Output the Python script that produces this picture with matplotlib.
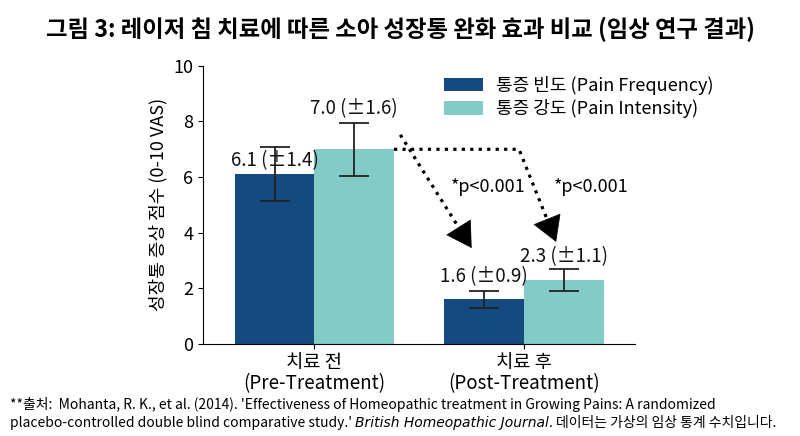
import matplotlib
matplotlib.use("Agg")
import matplotlib.pyplot as plt
import numpy as np

plt.rcParams["font.family"] = ["Noto Sans CJK KR", "DejaVu Sans"]

groups = ["치료 전\n(Pre-Treatment)", "치료 후\n(Post-Treatment)"]
freq = [6.1, 1.6]
intensity = [7.0, 2.3]
freq_sd = [1.4, 0.9]
intensity_sd = [1.6, 1.1]
# error bars as drawn in the figure (shorter than the stated SD)
freq_err = [0.97, 0.31]
intensity_err = [0.95, 0.38]

dark = "#154a80"
teal = "#82cbc6"

fig = plt.figure(figsize=(8, 4.36), dpi=100)
ax = fig.add_axes([0.254, 0.211, 0.54, 0.638])

x = np.arange(len(groups))
w = 0.38
ekw = dict(ecolor="#222222", elinewidth=1.3, capthick=1.3)
ax.bar(x - w / 2, freq, w, color=dark, label="통증 빈도 (Pain Frequency)",
       yerr=freq_err, capsize=11, error_kw=ekw)
ax.bar(x + w / 2, intensity, w, color=teal, label="통증 강도 (Pain Intensity)",
       yerr=intensity_err, capsize=11, error_kw=ekw)

# value labels
lab_y = [[freq[0] + 0.12, freq[1] + freq_err[1] + 0.15],
         [intensity[0] + intensity_err[0] + 0.15, intensity[1] + intensity_err[1] + 0.1]]
for i in range(len(groups)):
    ax.text(x[i] - w / 2, lab_y[0][i], f"{freq[i]:.1f} (±{freq_sd[i]:.1f})",
            ha="center", va="bottom", fontsize=13.5, color="#111111")
    ax.text(x[i] + w / 2, lab_y[1][i], f"{intensity[i]:.1f} (±{intensity_sd[i]:.1f})",
            ha="center", va="bottom", fontsize=13.5, color="#111111")

ax.set_xlim(-0.53, 1.53)
ax.set_ylim(0, 10)


def dotted_arrow(pts, head_px=17):
    pts = np.array(pts, dtype=float)
    disp = ax.transData.transform(pts)
    d = disp[-1] - disp[-2]
    d = d / np.hypot(*d)
    base_disp = disp[-1] - d * head_px
    base = ax.transData.inverted().transform(base_disp)
    line = np.vstack([pts[:-1], base])
    ax.plot(line[:, 0], line[:, 1], ls=":", lw=2.3, color="black")
    ax.annotate("", xy=pts[-1], xytext=base,
                arrowprops=dict(arrowstyle="-|>,head_length=0.85,head_width=0.5", lw=0.5,
                                color="black", mutation_scale=20, shrinkA=0, shrinkB=0))


dotted_arrow([(0.41, 7.52), (0.75, 3.45)])
dotted_arrow([(x[0] + w, intensity[0]), (0.976, intensity[0]), (1.153, 3.67)])
ax.text(0.83, 5.65, "*p<0.001", ha="center", va="center", fontsize=13)
ax.text(1.32, 5.65, "*p<0.001", ha="center", va="center", fontsize=13)

ax.set_xticks(x)
ax.set_xticklabels(groups, fontsize=13.5, linespacing=1.0)
ax.tick_params(axis="x", pad=2)
ax.tick_params(axis="y", labelsize=13)
ax.set_ylabel("성장통 증상 점수 (0-10 VAS)", fontsize=13)
for s in ["top", "right"]:
    ax.spines[s].set_visible(False)

ax.legend(loc="upper left", bbox_to_anchor=(0.54, 0.99), frameon=False, fontsize=13,
          handlelength=2.2, handleheight=0.8, borderaxespad=0, labelspacing=0.25,
          handletextpad=0.7)

fig.text(0.5, 0.932, "그림 3: 레이저 침 치료에 따른 소아 성장통 완화 효과 비교 (임상 연구 결과)",
         ha="center", va="center", fontsize=16.8, fontweight="bold")

fig.text(0.012, 0.072, "**출처:  Mohanta, R. K., et al. (2014). 'Effectiveness of Homeopathic treatment in Growing Pains: A randomized",
         ha="left", va="center", fontsize=10)
tt = fig.text(0.012, 0.030, "placebo-controlled double blind comparative study.' ", ha="left", va="center", fontsize=10)
fig.canvas.draw()
r = fig.canvas.get_renderer()
bb = tt.get_window_extent(r)
tt2 = fig.text(bb.x1 / fig.bbox.width, 0.030, "British Homeopathic Journal", ha="left", va="center",
               fontsize=10, fontstyle="italic", family=["DejaVu Sans"])
bb2 = tt2.get_window_extent(r)
fig.text(bb2.x1 / fig.bbox.width, 0.030, ". 데이터는 가상의 임상 통계 수치입니다.", ha="left", va="center", fontsize=10)

fig.savefig("out.png", dpi=100)
